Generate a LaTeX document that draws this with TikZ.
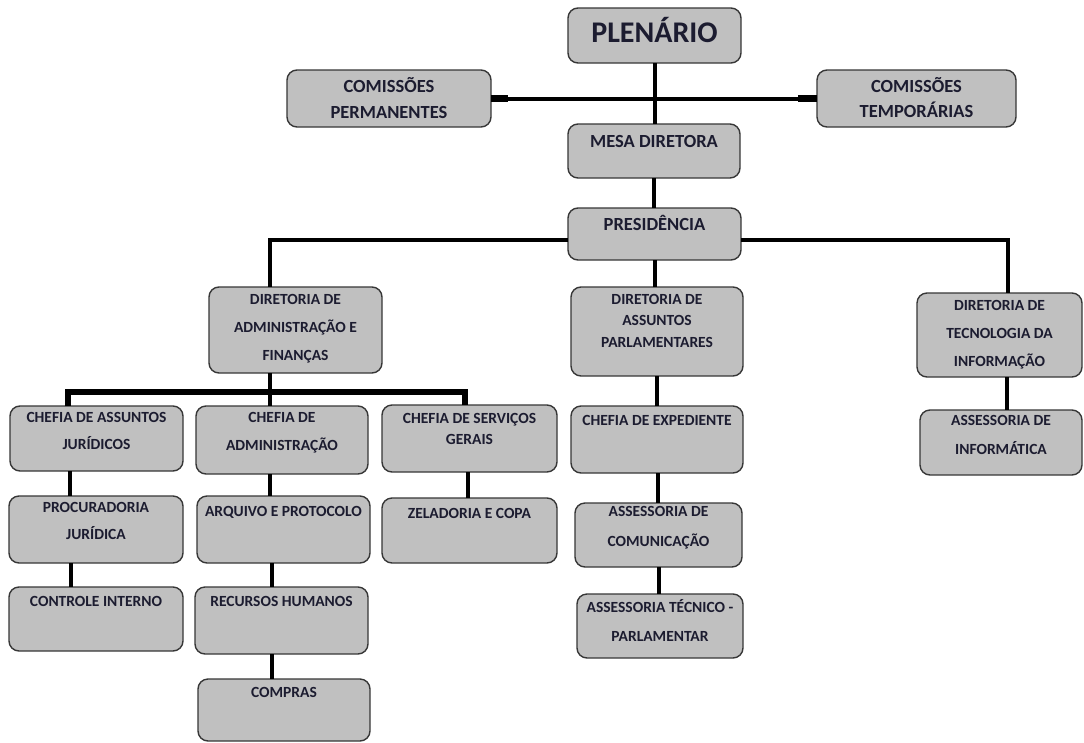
\documentclass[tikz,border=0pt]{standalone}
\usepackage{fontspec}
\setmainfont{Carlito}

\definecolor{boxfill}{RGB}{192,192,192}
\definecolor{boxline}{RGB}{55,55,55}
\definecolor{ink}{RGB}{28,28,48}

\tikzset{
  box/.style={draw=boxline, fill=boxfill, line width=1.4pt, rounded corners=10pt,
    inner sep=0pt, outer sep=0pt, anchor=north west},
  txt/.style={inner sep=0pt, outer sep=0pt, anchor=north, align=center, text=ink},
  tbig/.style={txt, font=\fontsize{30}{36}\selectfont\bfseries,
    execute at begin node={\rule{0pt}{27pt}}},
  tmed/.style={txt, font=\fontsize{18.5}{#1}\selectfont\bfseries,
    execute at begin node={\rule{0pt}{16.6pt}}},
  tmed/.default=26,
  tsmall/.style={txt, font=\fontsize{15.5}{#1}\selectfont\bfseries,
    execute at begin node={\rule{0pt}{14pt}}},
  tsmall/.default=27,
  conn/.style={draw=black, line width=4pt},
  bus/.style={draw=black, line width=5.5pt},
  stub/.style={draw=black, line width=6.5pt},
}

\begin{document}
\begin{tikzpicture}[x=1pt, y=-1pt]
\useasboundingbox[fill=white] (0,0) rectangle (1084,742);

% --- top level -------------------------------------------------------
\node[box, minimum width=173, minimum height=55] (pl) at (568,8) {};
\node[tbig] (pl-t) at (654.5,15.7) {PLENÁRIO};

\node[box, minimum width=204, minimum height=57] (cp) at (287,70) {};
\node[tmed=26] (cp-t) at (389,77.3) {COMISSÕES\\PERMANENTES};

\node[box, minimum width=199, minimum height=57] (ct) at (817,70) {};
\node[tmed=25] (ct-t) at (916.5,77.3) {COMISSÕES\\TEMPORÁRIAS};

\node[box, minimum width=172, minimum height=54] (md) at (568,124) {};
\node[tmed] (md-t) at (654,130.8) {MESA DIRETORA};

\node[box, minimum width=173, minimum height=52] (pr) at (568,208) {};
\node[tmed] (pr-t) at (654.5,213.8) {PRESIDÊNCIA};

% --- directorates ----------------------------------------------------
\node[box, minimum width=173, minimum height=86] (daf) at (209,287) {};
\node[tsmall=28] (daf-t) at (295.5,294) {DIRETORIA DE\\ADMINISTRAÇÃO E\\FINANÇAS};

\node[box, minimum width=172, minimum height=89] (dap) at (571,287) {};
\node[tsmall=21.5] (dap-t) at (657,294) {DIRETORIA DE\\ASSUNTOS\\PARLAMENTARES};

\node[box, minimum width=165, minimum height=84] (dti) at (917,293) {};
\node[tsmall=28] (dti-t) at (999.5,300) {DIRETORIA DE\\TECNOLOGIA DA\\INFORMAÇÃO};

% --- administration branch -------------------------------------------
\node[box, minimum width=173, minimum height=65] (caj) at (10,406) {};
\node[tsmall=27] (caj-t) at (96.5,412) {CHEFIA DE ASSUNTOS\\JURÍDICOS};

\node[box, minimum width=172, minimum height=68] (ca) at (196,406) {};
\node[tsmall=28] (ca-t) at (282,412) {CHEFIA DE\\ADMINISTRAÇÃO};

\node[box, minimum width=175, minimum height=67] (csg) at (382,405) {};
\node[tsmall=21] (csg-t) at (469.5,413) {CHEFIA DE SERVIÇOS\\GERAIS};

\node[box, minimum width=174, minimum height=67] (pj) at (9,496) {};
\node[tsmall=27] (pj-t) at (96,502) {PROCURADORIA\\JURÍDICA};

\node[box, minimum width=174, minimum height=64] (ci) at (9,587) {};
\node[tsmall] (ci-t) at (96,592) {CONTROLE INTERNO};

\node[box, minimum width=173, minimum height=67] (ap) at (197,496) {};
\node[tsmall] (ap-t) at (283.5,502) {ARQUIVO E PROTOCOLO};

\node[box, minimum width=173, minimum height=67] (rh) at (195,587) {};
\node[tsmall] (rh-t) at (281.5,592) {RECURSOS HUMANOS};

\node[box, minimum width=172, minimum height=62] (co) at (198,679) {};
\node[tsmall] (co-t) at (284,683) {COMPRAS};

\node[box, minimum width=175, minimum height=65] (zc) at (382,498) {};
\node[tsmall] (zc-t) at (469.5,504) {ZELADORIA E COPA};

% --- parliamentary branch --------------------------------------------
\node[box, minimum width=172, minimum height=67] (ce) at (571,406) {};
\node[tsmall] (ce-t) at (657,411) {CHEFIA DE EXPEDIENTE};

\node[box, minimum width=167, minimum height=64] (ac) at (575,503) {};
\node[tsmall=30] (ac-t) at (658.5,506) {ASSESSORIA DE\\COMUNICAÇÃO};

\node[box, minimum width=166, minimum height=64] (at) at (577,594) {};
\node[tsmall=29] (at-t) at (660,599) {ASSESSORIA TÉCNICO -\\PARLAMENTAR};

% --- information technology branch -----------------------------------
\node[box, minimum width=162, minimum height=65] (ai) at (920,410) {};
\node[tsmall=29] (ai-t) at (1001,415) {ASSESSORIA DE\\INFORMÁTICA};

% --- connectors ------------------------------------------------------
\draw[conn] (pl.south) -- (pl.south |- md.north);
\draw[conn] (cp.east) -- (ct.west);
\draw[stub] (cp.east) -- ++(17,0);
\draw[stub] (ct.west) -- ++(-19,0);
\draw[conn] (md.south) -- (md.south |- pr.north);
\draw[conn] (pr.south) -- (pr.south |- dap.north);
\draw[conn] ([yshift=-6pt]pr.west) -| ([xshift=-25.5pt]daf.north);
\draw[conn] ([yshift=-6pt]pr.east) -| ([xshift=8.5pt]dti.north);

\draw[conn] ([xshift=-25.5pt]daf.south) -- ([xshift=-25.5pt]daf.south |- ca.north);
\draw[bus] ([xshift=-28.5pt]caj.north) -- ++(0,-14) -| ([xshift=-4.5pt]csg.north);

\draw[conn] ([xshift=-26.5pt]caj.south) -- ([xshift=-26.5pt]caj.south |- pj.north);
\draw[conn] ([xshift=-25pt]pj.south) -- ([xshift=-25pt]pj.south |- ci.north);
\draw[conn] ([xshift=-12pt]ca.south) -- ([xshift=-12pt]ca.south |- ap.north);
\draw[conn] ([xshift=-11.5pt]ap.south) -- ([xshift=-11.5pt]ap.south |- rh.north);
\draw[conn] ([xshift=-9.5pt]rh.south) -- ([xshift=-9.5pt]rh.south |- co.north);
\draw[conn] ([xshift=-1.5pt]csg.south) -- ([xshift=-1.5pt]csg.south |- zc.north);

\draw[conn] (dap.south) -- (dap.south |- ce.north);
\draw[conn] ([xshift=1pt]ce.south) -- ([xshift=1pt]ce.south |- ac.north);
\draw[conn] (ac.south) -- (ac.south |- at.north);
\draw[conn] ([xshift=7.5pt]dti.south) -- ([xshift=7.5pt]dti.south |- ai.north);
\end{tikzpicture}
\end{document}
